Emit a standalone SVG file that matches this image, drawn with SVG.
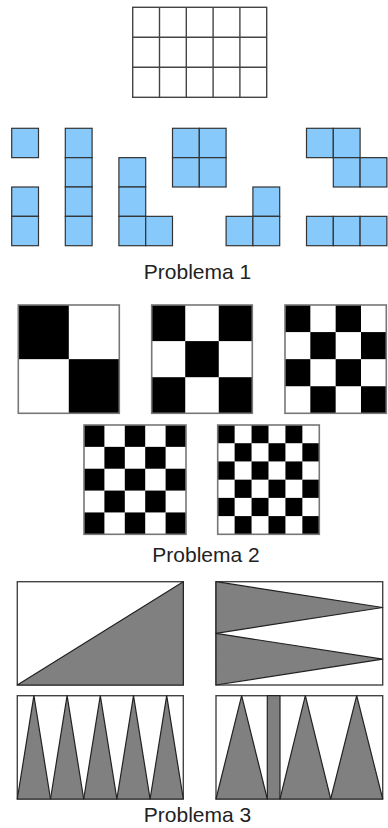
<svg xmlns="http://www.w3.org/2000/svg" width="388" height="828" viewBox="0 0 388 828">
<style>
.grid{fill:none;stroke:#444;stroke-width:1.4}
.cell{fill:#86C9FA;stroke:#333;stroke-width:1.2}
.bk{fill:#000}
.board{fill:#fff}
.bframe{fill:none;stroke:#777;stroke-width:1.6}
.frame{fill:#fff;stroke:#444;stroke-width:1.4}
.tri{fill:#808080;stroke:#222;stroke-width:1.2;stroke-linejoin:round}
.lbl{font-family:"Liberation Sans",Arial,sans-serif;font-size:21px;fill:#222;text-anchor:middle}
</style>
<rect width="388" height="828" fill="#fff"/>

<g id="top-grid">
<rect class="grid" x="132.7" y="7.3" width="134" height="90"/>
<path class="grid" d="M159.5 7.3V97.3M186.3 7.3V97.3M213.1 7.3V97.3M239.9 7.3V97.3M132.7 37.3H266.7M132.7 67.3H266.7"/>
</g>

<g id="polyominoes">
<g id="mono"><rect class="cell" x="11.7" y="128.3" width="26.8" height="29.35"/></g>
<g id="domino"><rect class="cell" x="11.7" y="187" width="26.8" height="29.35"/><rect class="cell" x="11.7" y="216.35" width="26.8" height="29.35"/></g>
<g id="i4"><rect class="cell" x="65.3" y="128.3" width="26.8" height="29.35"/><rect class="cell" x="65.3" y="157.65" width="26.8" height="29.35"/><rect class="cell" x="65.3" y="187" width="26.8" height="29.35"/><rect class="cell" x="65.3" y="216.35" width="26.8" height="29.35"/></g>
<g id="l4"><rect class="cell" x="118.9" y="157.65" width="26.8" height="29.35"/><rect class="cell" x="118.9" y="187" width="26.8" height="29.35"/><rect class="cell" x="118.9" y="216.35" width="26.8" height="29.35"/><rect class="cell" x="145.7" y="216.35" width="26.8" height="29.35"/></g>
<g id="o4"><rect class="cell" x="172.5" y="128.3" width="26.8" height="29.35"/><rect class="cell" x="199.3" y="128.3" width="26.8" height="29.35"/><rect class="cell" x="172.5" y="157.65" width="26.8" height="29.35"/><rect class="cell" x="199.3" y="157.65" width="26.8" height="29.35"/></g>
<g id="l3"><rect class="cell" x="252.9" y="187" width="26.8" height="29.35"/><rect class="cell" x="226.1" y="216.35" width="26.8" height="29.35"/><rect class="cell" x="252.9" y="216.35" width="26.8" height="29.35"/></g>
<g id="s4"><rect class="cell" x="306.5" y="128.3" width="26.8" height="29.35"/><rect class="cell" x="333.3" y="128.3" width="26.8" height="29.35"/><rect class="cell" x="333.3" y="157.65" width="26.8" height="29.35"/><rect class="cell" x="360.1" y="157.65" width="26.8" height="29.35"/></g>
<g id="i3"><rect class="cell" x="306.5" y="216.35" width="26.8" height="29.35"/><rect class="cell" x="333.3" y="216.35" width="26.8" height="29.35"/><rect class="cell" x="360.1" y="216.35" width="26.8" height="29.35"/></g>
</g>
<text class="lbl" x="197.5" y="279">Problema 1</text>

<g id="board2x2">
<rect class="board" x="18.3" y="305" width="101" height="108.3"/>
<rect class="bk" x="18.3" y="305" width="50.5" height="54.15"/>
<rect class="bk" x="68.8" y="359.15" width="50.5" height="54.15"/>
<rect class="bframe" x="18.3" y="305" width="101" height="108.3"/>
</g>
<g id="board3x3">
<rect class="board" x="151.7" y="305" width="100.6" height="108.3"/>
<rect class="bk" x="151.7" y="305" width="33.53" height="36.1"/>
<rect class="bk" x="218.77" y="305" width="33.53" height="36.1"/>
<rect class="bk" x="185.23" y="341.1" width="33.54" height="36.1"/>
<rect class="bk" x="151.7" y="377.2" width="33.53" height="36.1"/>
<rect class="bk" x="218.77" y="377.2" width="33.53" height="36.1"/>
<rect class="bframe" x="151.7" y="305" width="100.6" height="108.3"/>
</g>
<g id="board4x4">
<rect class="board" x="285" y="305" width="101.3" height="108.3"/>
<rect class="bk" x="285" y="305" width="25.33" height="27.08"/>
<rect class="bk" x="335.66" y="305" width="25.33" height="27.08"/>
<rect class="bk" x="310.33" y="332.08" width="25.33" height="27.08"/>
<rect class="bk" x="360.99" y="332.08" width="25.33" height="27.08"/>
<rect class="bk" x="285" y="359.16" width="25.33" height="27.08"/>
<rect class="bk" x="335.66" y="359.16" width="25.33" height="27.08"/>
<rect class="bk" x="310.33" y="386.24" width="25.33" height="27.08"/>
<rect class="bk" x="360.99" y="386.24" width="25.33" height="27.08"/>
<rect class="bframe" x="285" y="305" width="101.3" height="108.3"/>
</g>
<g id="board5x5">
<rect class="board" x="84" y="425" width="102" height="109.3"/>
<rect class="bk" x="84" y="425" width="20.4" height="21.86"/>
<rect class="bk" x="124.8" y="425" width="20.4" height="21.86"/>
<rect class="bk" x="165.6" y="425" width="20.4" height="21.86"/>
<rect class="bk" x="104.4" y="446.86" width="20.4" height="21.86"/>
<rect class="bk" x="145.2" y="446.86" width="20.4" height="21.86"/>
<rect class="bk" x="84" y="468.72" width="20.4" height="21.86"/>
<rect class="bk" x="124.8" y="468.72" width="20.4" height="21.86"/>
<rect class="bk" x="165.6" y="468.72" width="20.4" height="21.86"/>
<rect class="bk" x="104.4" y="490.58" width="20.4" height="21.86"/>
<rect class="bk" x="145.2" y="490.58" width="20.4" height="21.86"/>
<rect class="bk" x="84" y="512.44" width="20.4" height="21.86"/>
<rect class="bk" x="124.8" y="512.44" width="20.4" height="21.86"/>
<rect class="bk" x="165.6" y="512.44" width="20.4" height="21.86"/>
<rect class="bframe" x="84" y="425" width="102" height="109.3"/>
</g>
<g id="board6x6">
<rect class="board" x="217.7" y="425" width="101.6" height="109.3"/>
<rect class="bk" x="217.7" y="425" width="16.93" height="18.22"/>
<rect class="bk" x="251.56" y="425" width="16.93" height="18.22"/>
<rect class="bk" x="285.42" y="425" width="16.93" height="18.22"/>
<rect class="bk" x="234.63" y="443.22" width="16.93" height="18.22"/>
<rect class="bk" x="268.49" y="443.22" width="16.93" height="18.22"/>
<rect class="bk" x="302.35" y="443.22" width="16.95" height="18.22"/>
<rect class="bk" x="217.7" y="461.44" width="16.93" height="18.22"/>
<rect class="bk" x="251.56" y="461.44" width="16.93" height="18.22"/>
<rect class="bk" x="285.42" y="461.44" width="16.93" height="18.22"/>
<rect class="bk" x="234.63" y="479.66" width="16.93" height="18.22"/>
<rect class="bk" x="268.49" y="479.66" width="16.93" height="18.22"/>
<rect class="bk" x="302.35" y="479.66" width="16.95" height="18.22"/>
<rect class="bk" x="217.7" y="497.88" width="16.93" height="18.22"/>
<rect class="bk" x="251.56" y="497.88" width="16.93" height="18.22"/>
<rect class="bk" x="285.42" y="497.88" width="16.93" height="18.22"/>
<rect class="bk" x="234.63" y="516.1" width="16.93" height="18.2"/>
<rect class="bk" x="268.49" y="516.1" width="16.93" height="18.2"/>
<rect class="bk" x="302.35" y="516.1" width="16.95" height="18.2"/>
<rect class="bframe" x="217.7" y="425" width="101.6" height="109.3"/>
</g>
<text class="lbl" x="206" y="562">Problema 2</text>

<g id="rect-diagonal">
<rect class="frame" x="17.3" y="581.7" width="166" height="103.3"/>
<polygon class="tri" points="17.3,685 183.3,581.7 183.3,685"/>
</g>
<g id="rect-two-triangles">
<rect class="frame" x="216" y="581.7" width="166.7" height="103.3"/>
<polygon class="tri" points="216,581.7 382.7,607.5 216,633.35"/>
<polygon class="tri" points="216,633.35 382.7,659.2 216,685"/>
</g>
<g id="rect-five-triangles">
<rect class="frame" x="17.3" y="695.7" width="166" height="103.3"/>
<polygon class="tri" points="17.3,799 33.9,695.7 50.5,799"/>
<polygon class="tri" points="50.5,799 67.1,695.7 83.7,799"/>
<polygon class="tri" points="83.7,799 100.3,695.7 116.9,799"/>
<polygon class="tri" points="116.9,799 133.5,695.7 150.1,799"/>
<polygon class="tri" points="150.1,799 166.7,695.7 183.3,799"/>
</g>
<g id="rect-three-triangles">
<rect class="frame" x="216" y="695.7" width="166.7" height="103.3"/>
<polygon class="tri" points="216,799 241.65,695.7 267.3,799"/>
<rect class="tri" x="267.3" y="695.7" width="12.7" height="103.3"/>
<polygon class="tri" points="280,799 305.35,695.7 330.7,799"/>
<polygon class="tri" points="330.7,799 356.7,695.7 382.7,799"/>
</g>
<text class="lbl" x="197.5" y="822">Problema 3</text>
</svg>
